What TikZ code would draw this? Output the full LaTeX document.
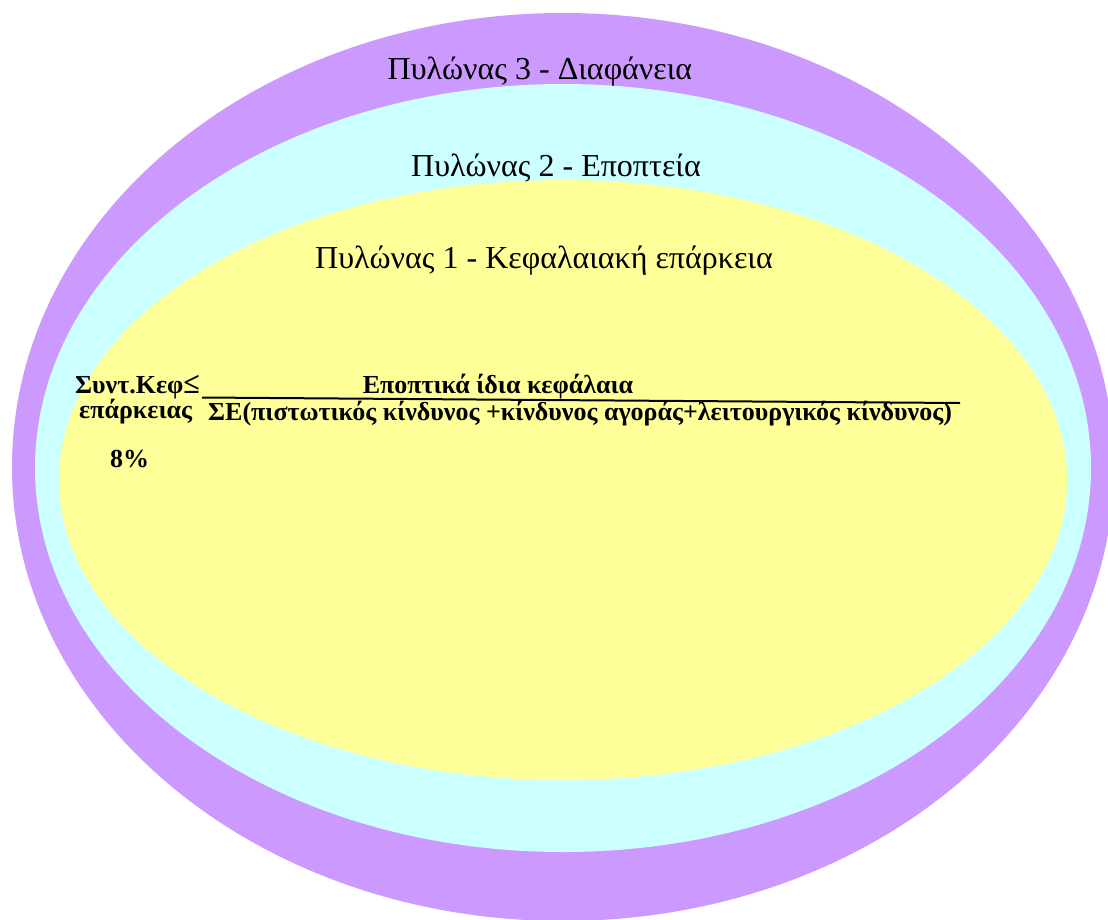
\documentclass[tikz,border=0pt]{standalone}
\usepackage{fontspec}
\setmainfont{Liberation Serif}
\definecolor{pillarthree}{HTML}{CC99FF}
\definecolor{pillartwo}{HTML}{CCFFFF}
\definecolor{pillarone}{HTML}{FFFF99}
\tikzset{
  titletext/.style={inner sep=0pt, anchor=base, font=\fontsize{32}{38}\selectfont},
  formtext/.style={inner sep=0pt, anchor=base west, font=\fontsize{26}{30}\selectfont\bfseries},
}
\begin{document}
\begin{tikzpicture}[x=1pt,y=-1pt]
\useasboundingbox (0,0) rectangle (1108,919);
\begin{scope}
\clip (0,0) rectangle (1108,919);
\fill[pillarthree] (563,467) ellipse [x radius=551, y radius=454];
\fill[pillartwo] (563,468) ellipse [x radius=528, y radius=384];
\fill[pillarone] (563,480) ellipse [x radius=504, y radius=300];
\end{scope}
\node[titletext] (p3) at (540,79) {Πυλώνας 3 - Διαφάνεια};
\node[titletext] (p2) at (556,176) {Πυλώνας 2 - Εποπτεία};
\node[titletext] (p1) at (544,268) {Πυλώνας 1 - Κεφαλαιακή επάρκεια};
\node[formtext] (lhs1) at (75,393) {Συντ.Κεφ{\fontsize{30}{30}\selectfont ≤}};
\node[formtext] (lhs2) at (79,418) {επάρκειας};
\node[formtext] (pct) at (110,467) {8\%};
\node[formtext, anchor=base] (num) at (498,393) {Εποπτικά ίδια κεφάλαια};
\node[formtext] (den) at (208,420) {ΣΕ(πιστωτικός κίνδυνος +κίνδυνος αγοράς+λειτουργικός κίνδυνος)};
\coordinate (fracL) at (202,397.5);
\coordinate (fracR) at (960,403);
\draw[line width=2pt] (fracL) -- (fracR);
\end{tikzpicture}
\end{document}
